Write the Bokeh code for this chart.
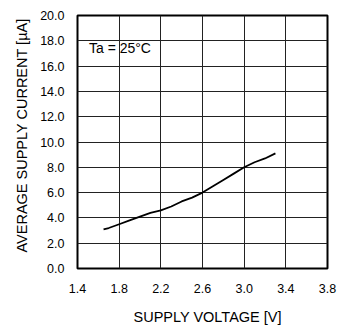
from bokeh.plotting import figure
from bokeh.embed import file_html
from bokeh.resources import INLINE
from bokeh.models import FixedTicker, Range1d, Label, Title

voltage = [1.65, 1.7, 1.8, 1.9, 2.0, 2.1, 2.2, 2.3, 2.4, 2.5, 2.6, 2.7, 2.8, 2.9, 3.0, 3.1, 3.2, 3.3]
current = [3.1, 3.2, 3.5, 3.8, 4.1, 4.4, 4.6, 4.9, 5.3, 5.6, 6.0, 6.5, 7.0, 7.5, 8.0, 8.4, 8.7, 9.1]
x_ticks = [1.4, 1.8, 2.2, 2.6, 3.0, 3.4, 3.8]
y_ticks = [0, 2, 4, 6, 8, 10, 12, 14, 16, 18, 20]
y_labels = {v: f"{v:.1f}" for v in y_ticks}
x_labels = {v: f"{v:.1f}" for v in x_ticks}

FONT = "Liberation Sans"

p = figure(width=339, height=326, output_backend="svg", toolbar_location=None,
           x_range=Range1d(1.4, 3.8), y_range=Range1d(0, 20),
           frame_width=250, frame_height=253,
           min_border_left=77, min_border_right=12, min_border_top=15, min_border_bottom=0)

p.line(voltage, current, line_color="black", line_width=1.8)

p.outline_line_color = "black"
p.outline_line_width = 2
p.background_fill_color = "white"
p.border_fill_color = "white"

for ax, ticks, labels in ((p.xaxis[0], x_ticks, x_labels), (p.yaxis[0], y_ticks, y_labels)):
    ax.ticker = FixedTicker(ticks=ticks)
    ax.major_label_overrides = labels
    ax.major_tick_line_color = None
    ax.minor_tick_line_color = None
    ax.axis_line_color = None
    ax.major_label_text_font = FONT
    ax.major_label_text_font_size = "12.5px"
    ax.major_label_text_color = "black"

p.xaxis.major_label_standoff = 9
p.yaxis.major_label_standoff = 7

xt = Title(text="SUPPLY VOLTAGE [V]", align="left", offset=56, text_font=FONT,
           text_font_size="14.5px", text_font_style="normal", text_color="black", standoff=22)
p.add_layout(xt, "below")
yt = Title(text="AVERAGE SUPPLY CURRENT [\u00b5A]", align="left", offset=16, text_font=FONT,
           text_font_size="14.5px", text_font_style="normal", text_color="black", standoff=16)
p.add_layout(yt, "left")

p.xgrid.ticker = FixedTicker(ticks=x_ticks)
p.ygrid.ticker = FixedTicker(ticks=y_ticks)
p.grid.grid_line_color = "#222222"
p.grid.grid_line_width = 1
p.grid.grid_line_alpha = 1.0

p.add_layout(Label(x=1.51, y=18.05, text="Ta = 25\u00b0C", text_font=FONT,
                   text_font_size="14px", text_color="black", text_baseline="top"))

open("out.html", "w").write(file_html(p, INLINE))
